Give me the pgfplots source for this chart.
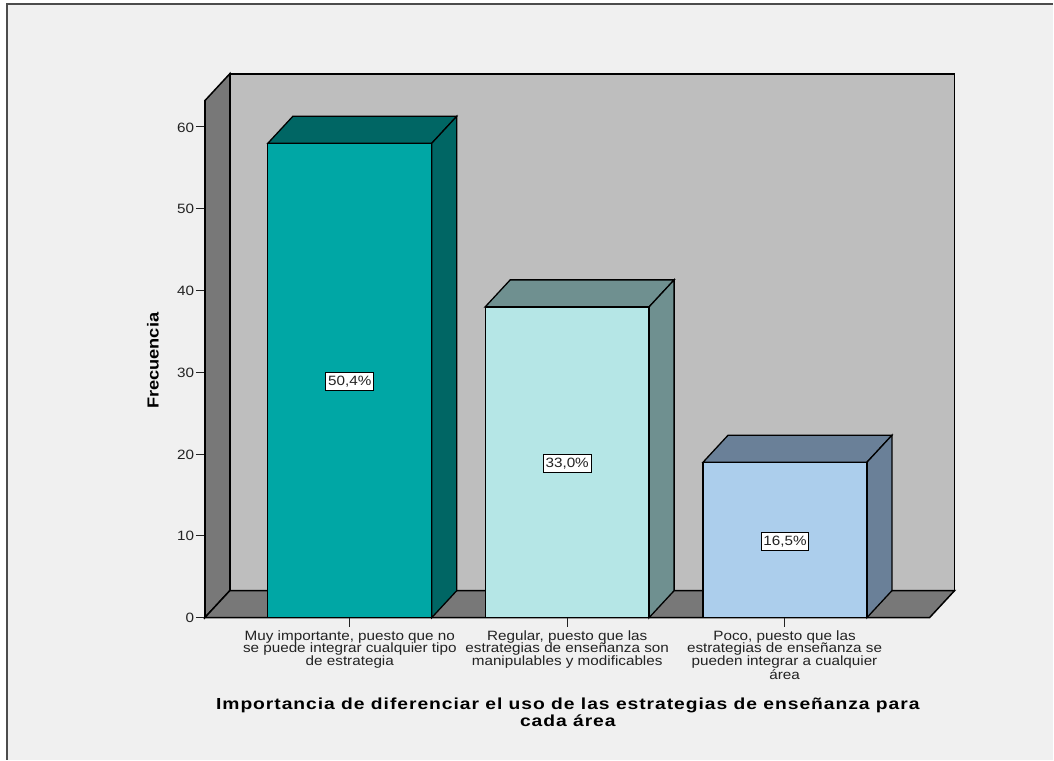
\documentclass[border=0pt]{standalone}
\usepackage{pgfplots}
\pgfplotsset{compat=1.18}
\usepackage{fontspec}
\setmainfont[FakeStretch=1.13]{Liberation Sans}
\newfontfamily\titlefont[LetterSpace=6.0,FakeStretch=1.205]{Liberation Sans}
\newfontfamily\ylfont[FakeStretch=1.14]{Liberation Sans}
\definecolor{bgc}{HTML}{F0F0F0}
\definecolor{wallc}{HTML}{BEBEBE}
\definecolor{sidec}{HTML}{787878}
\definecolor{aF}{HTML}{00A7A5}
\definecolor{aS}{HTML}{006664}
\definecolor{bF}{HTML}{B5E6E6}
\definecolor{bS}{HTML}{6F9090}
\definecolor{cF}{HTML}{ACCEEC}
\definecolor{cS}{HTML}{6A8098}
\definecolor{ink}{HTML}{222222}
\begin{document}
\begin{tikzpicture}
\begin{axis}[
  x=217.5pt, y=8.1833pt,
  xmin=-0.667, xmax=2.667, ymin=0, ymax=63.2,
  clip=false, axis on top,
  axis x line=bottom, axis y line=left,
  axis line style={-, line width=1.5pt, black},
  xtick={0,1,2},
  xticklabels={{Muy importante, puesto que no\\se puede integrar cualquier tipo\\de estrategia},
               {Regular, puesto que las\\estrategias de enseñanza son\\manipulables y modificables},
               {Poco, puesto que las\\estrategias de enseñanza se\\pueden integrar a cualquier\\área}},
  ytick={0,10,20,30,40,50,60},
  tick align=outside,
  major tick length=9pt,
  tick style={line width=1pt, ink},
  xticklabel style={align=center, anchor=north, text=ink, font=\fontsize{13.5}{12.6}\selectfont, inner sep=0pt, yshift=-3.5pt},
  yticklabel style={text=ink, font=\fontsize{13.5}{14}\selectfont, inner sep=0pt, xshift=-1.5pt, yshift=-0.5pt},
  /pgf/number format/assume math mode=true,
  xlabel={\titlefont\bfseries Importancia de diferenciar el uso de las estrategias de enseñanza para\\\titlefont\bfseries cada área},
  xlabel style={at={(axis cs:1.003,-11.55)}, anchor=center, align=center, font=\fontsize{16}{17}\selectfont, inner sep=0pt},
  ylabel={\ylfont\bfseries Frecuencia},
  ylabel style={at={(axis cs:-0.906,31.4)}, anchor=center, font=\fontsize{16}{17}\selectfont, inner sep=0pt},
]
% page and frame
\addplot[fill=white, draw=none, forget plot] coordinates {(-1.6092,-17.353)(3.2368,-17.353)(3.2368,75.52)(-1.6092,75.52)} --cycle;
\addplot[fill=bgc, draw=none, forget plot] coordinates {(-1.577,-17.353)(3.2368,-17.353)(3.2368,75.03)(-1.577,75.03)} --cycle;
\addplot[draw=black!70, line width=1.2pt, forget plot] coordinates {(-1.577,-17.353)(-1.577,75.03)(3.2368,75.03)};
% walls and floor
\addplot[fill=wallc, draw=black, line width=1.5pt, forget plot] coordinates {(-0.552,3.3)(2.782,3.3)(2.782,66.5)(-0.552,66.5)} --cycle;
\addplot[fill=sidec, draw=black, line width=1.5pt, forget plot] coordinates {(-0.667,0)(-0.552,3.3)(-0.552,66.5)(-0.667,63.2)} --cycle;
\addplot[fill=sidec, draw=black, line width=1.5pt, forget plot] coordinates {(-0.667,0)(2.667,0)(2.782,3.3)(-0.552,3.3)} --cycle;
% bar 1: 58
\addplot[fill=aS, draw=black, line width=1.3pt, forget plot] coordinates {(-0.377,58)(0.377,58)(0.492,61.3)(-0.262,61.3)} --cycle;
\addplot[fill=aS, draw=black, line width=1.3pt, forget plot] coordinates {(0.377,0)(0.492,3.3)(0.492,61.3)(0.377,58)} --cycle;
\addplot[fill=aF, draw=black, line width=1.3pt, forget plot] coordinates {(-0.377,0)(0.377,0)(0.377,58)(-0.377,58)} --cycle;
% bar 2: 38
\addplot[fill=bS, draw=black, line width=1.3pt, forget plot] coordinates {(0.623,38)(1.377,38)(1.492,41.3)(0.738,41.3)} --cycle;
\addplot[fill=bS, draw=black, line width=1.3pt, forget plot] coordinates {(1.377,0)(1.492,3.3)(1.492,41.3)(1.377,38)} --cycle;
\addplot[fill=bF, draw=black, line width=1.3pt, forget plot] coordinates {(0.623,0)(1.377,0)(1.377,38)(0.623,38)} --cycle;
% bar 3: 19
\addplot[fill=cS, draw=black, line width=1.3pt, forget plot] coordinates {(1.625,19)(2.379,19)(2.494,22.3)(1.740,22.3)} --cycle;
\addplot[fill=cS, draw=black, line width=1.3pt, forget plot] coordinates {(2.379,0)(2.494,3.3)(2.494,22.3)(2.379,19)} --cycle;
\addplot[fill=cF, draw=black, line width=1.3pt, forget plot] coordinates {(1.625,0)(2.379,0)(2.379,19)(1.625,19)} --cycle;
% value labels
\addplot[draw=none, mark=none, forget plot, point meta=explicit symbolic,
  nodes near coords,
  nodes near coords style={anchor=center, fill=white, draw=black, line width=1pt, text=ink, yshift=-1.5pt,
    font=\fontsize{13.5}{14}\selectfont, inner sep=0pt, minimum width=48pt, minimum height=18pt}]
  coordinates {(0,29) [50,4\%] (1,19) [33,0\%] (2.002,9.5) [16,5\%]};
\end{axis}
\end{tikzpicture}
\end{document}
